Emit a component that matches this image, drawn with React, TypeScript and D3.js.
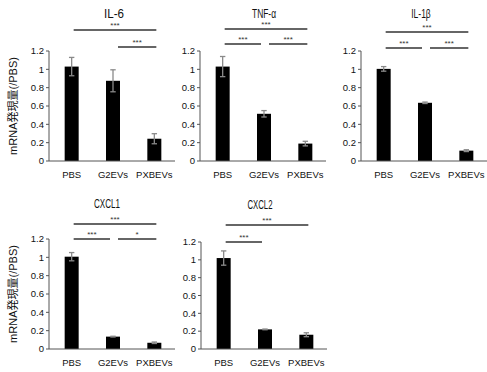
import React from "react";
import * as d3 from "d3";

const categories = ["PBS", "G2EVs", "PXBEVs"];
const yTicks = [0, 0.2, 0.4, 0.6, 0.8, 1, 1.2];

const titles = ["IL-6", "TNF-α", "IL-1β", "CXCL1", "CXCL2"];
const meanIL6 = [1.03, 0.875, 0.243];
const errIL6 = [0.1, 0.12, 0.055];
const meanTNF = [1.03, 0.515, 0.19];
const errTNF = [0.11, 0.035, 0.025];
const meanIL1b = [1.005, 0.635, 0.113];
const errIL1b = [0.025, 0.008, 0.01];
const meanCXCL1 = [1.007, 0.135, 0.068];
const errCXCL1 = [0.045, 0.004, 0.008];
const meanCXCL2 = [1.02, 0.22, 0.16];
const errCXCL2 = [0.08, 0.004, 0.022];

// comparisons: [from, to, level, label]
const sigIL6: [string, string, number, string][] = [
  ["PBS", "PXBEVs", 2, "***"],
  ["G2EVs", "PXBEVs", 1, "***"],
];
const sigTNF: [string, string, number, string][] = [
  ["PBS", "PXBEVs", 2, "***"],
  ["PBS", "G2EVs", 1, "***"],
  ["G2EVs", "PXBEVs", 1, "***"],
];
const sigIL1b = sigTNF;
const sigCXCL1: [string, string, number, string][] = [
  ["PBS", "PXBEVs", 2, "***"],
  ["PBS", "G2EVs", 1, "***"],
  ["G2EVs", "PXBEVs", 1, "*"],
];
const sigCXCL2: [string, string, number, string][] = [
  ["PBS", "PXBEVs", 2, "***"],
  ["PBS", "G2EVs", 1, "***"],
];

const panelData = [
  { title: titles[0], mean: meanIL6, err: errIL6, sig: sigIL6 },
  { title: titles[1], mean: meanTNF, err: errTNF, sig: sigTNF },
  { title: titles[2], mean: meanIL1b, err: errIL1b, sig: sigIL1b },
  { title: titles[3], mean: meanCXCL1, err: errCXCL1, sig: sigCXCL1 },
  { title: titles[4], mean: meanCXCL2, err: errCXCL2, sig: sigCXCL2 },
];

// layout (pixels)
const layout = [
  { ax: 49, y0: 161, yTop: 51, titleX: 114, titleY: 17.5, titleW: 20, lv: [0, 114, 131], yLabel: true },
  { ax: 200, y0: 161, yTop: 51, titleX: 264, titleY: 17.5, titleW: 24, lv: [0, 117, 132], yLabel: false },
  { ax: 361, y0: 161, yTop: 51, titleX: 421, titleY: 17.5, titleW: 19.5, lv: [0, 113, 129], yLabel: false },
  { ax: 49, y0: 349, yTop: 239, titleX: 107, titleY: 208, titleW: 26, lv: [0, 110, 125], yLabel: true },
  { ax: 201, y0: 349, yTop: 242, titleX: 260, titleY: 209, titleW: 25, lv: [0, 107, 124], yLabel: false },
];

const FONT = "'Liberation Sans', Arial, 'Noto Sans CJK JP', sans-serif";
const AXIS = "#555";

function Panel({ d, L }: { d: (typeof panelData)[0]; L: (typeof layout)[0] }) {
  const x = d3.scalePoint<string>().domain(categories).range([L.ax + 2, L.ax + 126]).padding(0.5);
  const y = d3.scaleLinear().domain([0, 1.2]).range([L.y0, L.yTop]);
  const bw = 14;
  const last = categories[categories.length - 1];
  const first = categories[0];
  return (
    <g>
      <text
        x={L.titleX}
        y={L.titleY}
        textAnchor="middle"
        fontSize={12.5}
        fontFamily={FONT}
        textLength={L.titleW}
        lengthAdjust="spacingAndGlyphs"
        fill="#111"
      >
        {d.title}
      </text>
      {d.sig.map(([a, b, lv, lab], i) => {
        const x1 = (x(a) as number) + 2 + (a !== first ? 3 : 0);
        const x2 = (x(b) as number) + 2 - (b !== last ? 5 : 0);
        const yy = L.y0 - L.lv[lv];
        return (
          <g key={i}>
            <line x1={x1} x2={x2} y1={yy} y2={yy} stroke="#333" strokeWidth={1.3} />
            <text x={(x1 + x2) / 2} y={yy - 2.5} textAnchor="middle" fontSize={8} fontFamily={FONT} fill="#333">
              {lab}
            </text>
          </g>
        );
      })}
      {d.mean.map((m, i) => {
        const cx = x(categories[i]) as number;
        return (
          <rect key={"b" + i} x={cx - bw / 2} y={y(m)} width={bw} height={L.y0 - y(m)} fill="#000" />
        );
      })}
      {d.mean.map((m, i) => {
        const cx = x(categories[i]) as number;
        const hi = y(m + d.err[i]);
        const lo = y(m - d.err[i]);
        return (
          <g key={"e" + i} stroke="#8a8a8a" strokeWidth={1.3}>
            <line x1={cx} x2={cx} y1={hi} y2={lo} />
            <line x1={cx - 2.7} x2={cx + 2.7} y1={hi} y2={hi} />
            <line x1={cx - 2.7} x2={cx + 2.7} y1={lo} y2={lo} />
          </g>
        );
      })}
      <line x1={L.ax} x2={L.ax} y1={L.yTop} y2={L.y0} stroke={AXIS} strokeWidth={1} />
      <line x1={L.ax} x2={L.ax + 126} y1={L.y0} y2={L.y0} stroke={AXIS} strokeWidth={1} />
      {yTicks.map((t) => (
        <g key={t}>
          <line x1={L.ax - 3} x2={L.ax} y1={y(t)} y2={y(t)} stroke={AXIS} strokeWidth={1} />
          <text x={L.ax - 5} y={y(t) + 3.3} textAnchor="end" fontSize={9.5} fontFamily={FONT} fill="#111">
            {d3.format("~g")(t)}
          </text>
        </g>
      ))}
      {categories.map((c) => (
        <text key={c} x={x(c) as number} y={L.y0 + 16.5} textAnchor="middle" fontSize={9.5} fontFamily={FONT} fill="#111">
          {c}
        </text>
      ))}
      {L.yLabel && (
        <text
          transform={`translate(17,${(L.y0 + L.yTop) / 2}) rotate(-90)`}
          textAnchor="middle"
          fontSize={11}
          fontFamily={FONT}
          fill="#111"
        >
          mRNA発現量(/PBS)
        </text>
      )}
    </g>
  );
}

export default function App() {
  return (
    <svg width={487} height={372} style={{ position: "absolute", left: 0, top: 0, background: "#fff" }}>
      <rect width={487} height={372} fill="#fff" />
      {panelData.map((d, i) => (
        <Panel key={i} d={d} L={layout[i]} />
      ))}
    </svg>
  );
}
